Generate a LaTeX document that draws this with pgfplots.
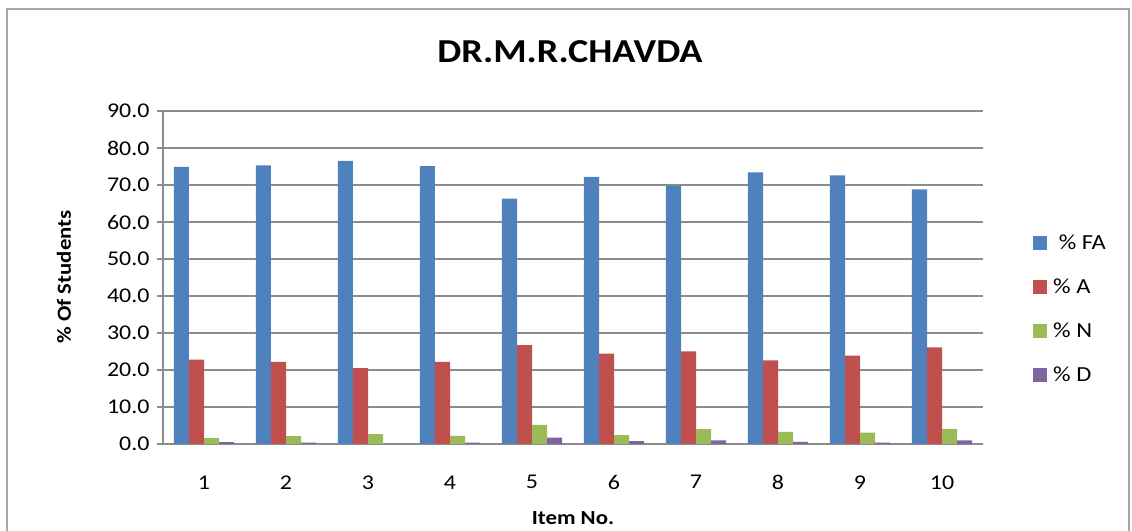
\documentclass[border=0pt]{standalone}
\usepackage{fontspec}
\setmainfont{Carlito}[FakeStretch=1.14]
\usepackage{pgfplots}
\pgfplotsset{compat=1.18}
\definecolor{cFA}{HTML}{4F81BD}
\definecolor{cA}{HTML}{C0504D}
\definecolor{cN}{HTML}{9BBB59}
\definecolor{cD}{HTML}{8064A2}
\definecolor{gridc}{HTML}{8C8C8C}
\definecolor{borderc}{HTML}{A6A6A6}
\begin{document}
\begin{tikzpicture}
\useasboundingbox (0bp,0bp) rectangle (1132bp,531bp);
\draw[color=borderc, line width=1.5bp] (7bp,-10bp) rectangle (1129bp,522bp);
\node[font=\fontsize{33.5bp}{40bp}\selectfont\bfseries] at (570bp,479bp) {DR.M.R.CHAVDA};
\node[font=\fontsize{20bp}{24bp}\selectfont\bfseries] at (573bp,13bp) {Item No.};
\node[font=\fontsize{20bp}{24bp}\selectfont\bfseries, rotate=90] at (64bp,254bp) {\% Of Students};
\begin{axis}[
  at={(163bp,87bp)}, anchor=south west,
  scale only axis, width=820bp, height=333bp,
  ymin=0, ymax=90, ytick={0,10,...,90},
  xmin=0.5, xmax=10.5, xtick={1,...,10},
  ybar=0pt, bar width=0.183,
  axis x line*=bottom, axis y line*=left,
  axis line style={color=gridc, line width=1.5bp},
  ymajorgrids, grid style={color=gridc, line width=1.5bp},
  tick align=outside, major tick length=6bp,
  major x tick style={draw=none},
  major y tick style={color=gridc, line width=1.2bp},
  yticklabel style={font=\fontsize{21bp}{25bp}\selectfont, xshift=-4bp,
    /pgf/number format/fixed, /pgf/number format/fixed zerofill,
    /pgf/number format/precision=1, /pgf/number format/assume math mode=true},
  xticklabel style={font=\fontsize{21bp}{25bp}\selectfont, yshift=-22bp,
    /pgf/number format/assume math mode=true},
  legend style={at={(axis description cs:1.061,0.405)}, anchor=west, draw=none, fill=none,
    inner sep=0pt, row sep=28bp,
    nodes={inner sep=0pt, anchor=west, font=\fontsize{21.5bp}{25bp}\selectfont},
    /tikz/every odd column/.style={column sep=6bp}},
  legend cell align=left,
  clip=false,
]
\addplot[fill=cFA, draw=none, legend image code/.code={\fill[cFA] (0bp,-7bp) rectangle (14bp,7bp);}] coordinates {
(1,74.9) (2,75.3) (3,76.5) (4,75.1) (5,66.3) (6,72.2) (7,69.8) (8,73.4) (9,72.6) (10,68.8)};
\addplot[fill=cA, draw=none, legend image code/.code={\fill[cA] (0bp,-7bp) rectangle (14bp,7bp);}] coordinates {
(1,22.8) (2,22.2) (3,20.5) (4,22.2) (5,26.7) (6,24.4) (7,25.0) (8,22.6) (9,23.9) (10,26.1)};
\addplot[fill=cN, draw=none, legend image code/.code={\fill[cN] (0bp,-7bp) rectangle (14bp,7bp);}] coordinates {
(1,1.6) (2,2.1) (3,2.7) (4,2.2) (5,5.2) (6,2.4) (7,4.0) (8,3.3) (9,3.1) (10,4.0)};
\addplot[fill=cD, draw=none, legend image code/.code={\fill[cD] (0bp,-7bp) rectangle (14bp,7bp);}] coordinates {
(1,0.5) (2,0.4) (3,0.0) (4,0.4) (5,1.7) (6,0.8) (7,1.0) (8,0.6) (9,0.4) (10,1.0)};
\legend{\ \% FA, \% A, \% N, \% D}
\end{axis}
\end{tikzpicture}
\end{document}
